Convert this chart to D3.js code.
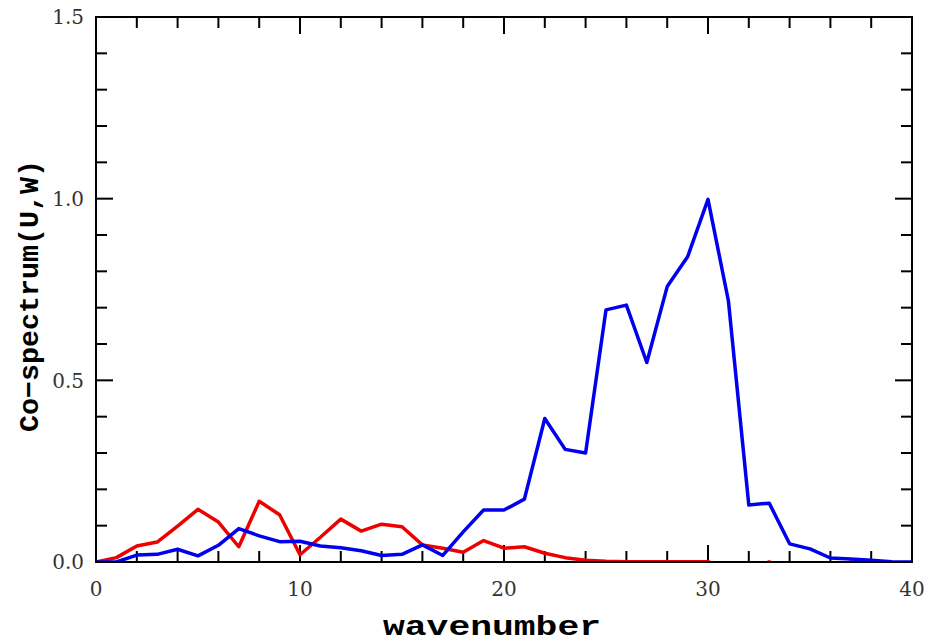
<!DOCTYPE html>
<html>
<head>
<meta charset="utf-8">
<script src="https://cdn.jsdelivr.net/npm/d3@7"></script>
<style>
    body { margin: 0; background: #fff; }
    svg { display: block; }
</style>
</head>
<body>
<svg id="chart" width="929" height="643"></svg>
<script>
// wavenumbers 0..40
const wavenumbers = d3.range(0, 41);

// co-spectrum of U,W for the two runs
const blueValues = [
    0.0, 0.0, 0.019, 0.021, 0.035, 0.017, 0.046, 0.092, 0.072, 0.056,
    0.057, 0.044, 0.039, 0.031, 0.018, 0.021, 0.047, 0.018, 0.083, 0.143,
    0.143, 0.173, 0.395, 0.31, 0.30, 0.694, 0.707, 0.549, 0.758, 0.840,
    0.998, 0.719, 0.157, 0.162, 0.050, 0.036, 0.011, 0.008, 0.005, 0.001,
    0.0
];
const redValues = [
    0.0, 0.012, 0.044, 0.055, 0.099, 0.145, 0.110, 0.042, 0.167, 0.130,
    0.020, 0.068, 0.118, 0.085, 0.104, 0.097, 0.047, 0.038, 0.027, 0.059,
    0.038, 0.042, 0.024, 0.012, 0.005, 0.002, 0.001, 0.001, 0.001, 0.001,
    0.001, -0.02, -0.02, 0.0, -0.02, -0.02, -0.02, 0.0, -0.02, -0.02,
    -0.02
];

const xTickLabels = [0, 10, 20, 30, 40];
const yTickLabels = [0, 0.5, 1.0, 1.5];

const margin = { top: 17, right: 17, bottom: 81, left: 96 };
const width = 929 - margin.left - margin.right;
const height = 643 - margin.top - margin.bottom;

const svg = d3.select('#chart');
const g = svg.append('g').attr('transform', `translate(${margin.left},${margin.top})`);

const x = d3.scaleLinear().domain([0, 40]).range([0, width]);
const y = d3.scaleLinear().domain([0, 1.5]).range([height, 0]);

g.append('defs').append('clipPath').attr('id', 'plotClip')
    .append('rect').attr('width', width).attr('height', height + 1);

// inward ticks on all four sides
const minorX = d3.range(0, 41, 2);
const minorY = d3.range(0, 1.51, 0.1);
const majorLen = 17;
const minorLen = 11;
const isMajorX = v => Math.abs(v % 10) < 1e-6;
const isMajorY = v => Math.abs(Math.round(v * 10) % 5) < 1e-6;

const ticks = g.append('g').attr('stroke', '#000').attr('stroke-width', 2);
minorX.forEach(v => {
    const len = isMajorX(v) ? majorLen : minorLen;
    ticks.append('line').attr('x1', x(v)).attr('x2', x(v)).attr('y1', height).attr('y2', height - len);
    ticks.append('line').attr('x1', x(v)).attr('x2', x(v)).attr('y1', 0).attr('y2', len);
});
minorY.forEach(v => {
    const len = isMajorY(v) ? majorLen : minorLen;
    ticks.append('line').attr('y1', y(v)).attr('y2', y(v)).attr('x1', 0).attr('x2', len);
    ticks.append('line').attr('y1', y(v)).attr('y2', y(v)).attr('x1', width).attr('x2', width - len);
});

// series
const line = d3.line()
    .x((d, i) => x(wavenumbers[i]))
    .y(d => y(d));

const plot = g.append('g').attr('clip-path', 'url(#plotClip)');
plot.append('path')
    .datum(redValues)
    .attr('fill', 'none')
    .attr('stroke', '#ee0000')
    .attr('stroke-width', 3.5)
    .attr('stroke-linejoin', 'round')
    .attr('d', line);
plot.append('path')
    .datum(blueValues)
    .attr('fill', 'none')
    .attr('stroke', '#0000ee')
    .attr('stroke-width', 3.5)
    .attr('stroke-linejoin', 'round')
    .attr('d', line);

// frame
g.append('rect')
    .attr('width', width)
    .attr('height', height)
    .attr('fill', 'none')
    .attr('stroke', '#000')
    .attr('stroke-width', 2);

// tick labels
const labelFont = '"DejaVu Serif", "Liberation Serif", serif';
g.append('g').selectAll('text')
    .data(xTickLabels)
    .join('text')
    .attr('x', d => x(d))
    .attr('y', height + 34)
    .attr('text-anchor', 'middle')
    .attr('font-family', labelFont)
    .attr('font-size', 20)
    .attr('fill', '#333')
    .text(d => d);

g.append('g').selectAll('text')
    .data(yTickLabels)
    .join('text')
    .attr('x', -12)
    .attr('y', d => y(d))
    .attr('dy', '0.36em')
    .attr('text-anchor', 'end')
    .attr('font-family', labelFont)
    .attr('font-size', 20)
    .attr('fill', '#333')
    .text(d => d3.format('.1f')(d));

// axis titles
const titleFont = '"Liberation Mono", "DejaVu Sans Mono", monospace';
svg.append('text')
    .attr('x', 492)
    .attr('y', 635)
    .attr('text-anchor', 'middle')
    .attr('font-family', titleFont)
    .attr('font-weight', 'bold')
    .attr('font-size', 27)
    .attr('textLength', 218)
    .attr('lengthAdjust', 'spacingAndGlyphs')
    .text('wavenumber');

svg.append('text')
    .attr('transform', 'translate(38,296) rotate(-90)')
    .attr('text-anchor', 'middle')
    .attr('font-family', titleFont)
    .attr('font-weight', 'bold')
    .attr('font-size', 28)
    .attr('textLength', 272)
    .attr('lengthAdjust', 'spacingAndGlyphs')
    .text('Co\u2212spectrum(U,W)');
</script>
</body>
</html>
